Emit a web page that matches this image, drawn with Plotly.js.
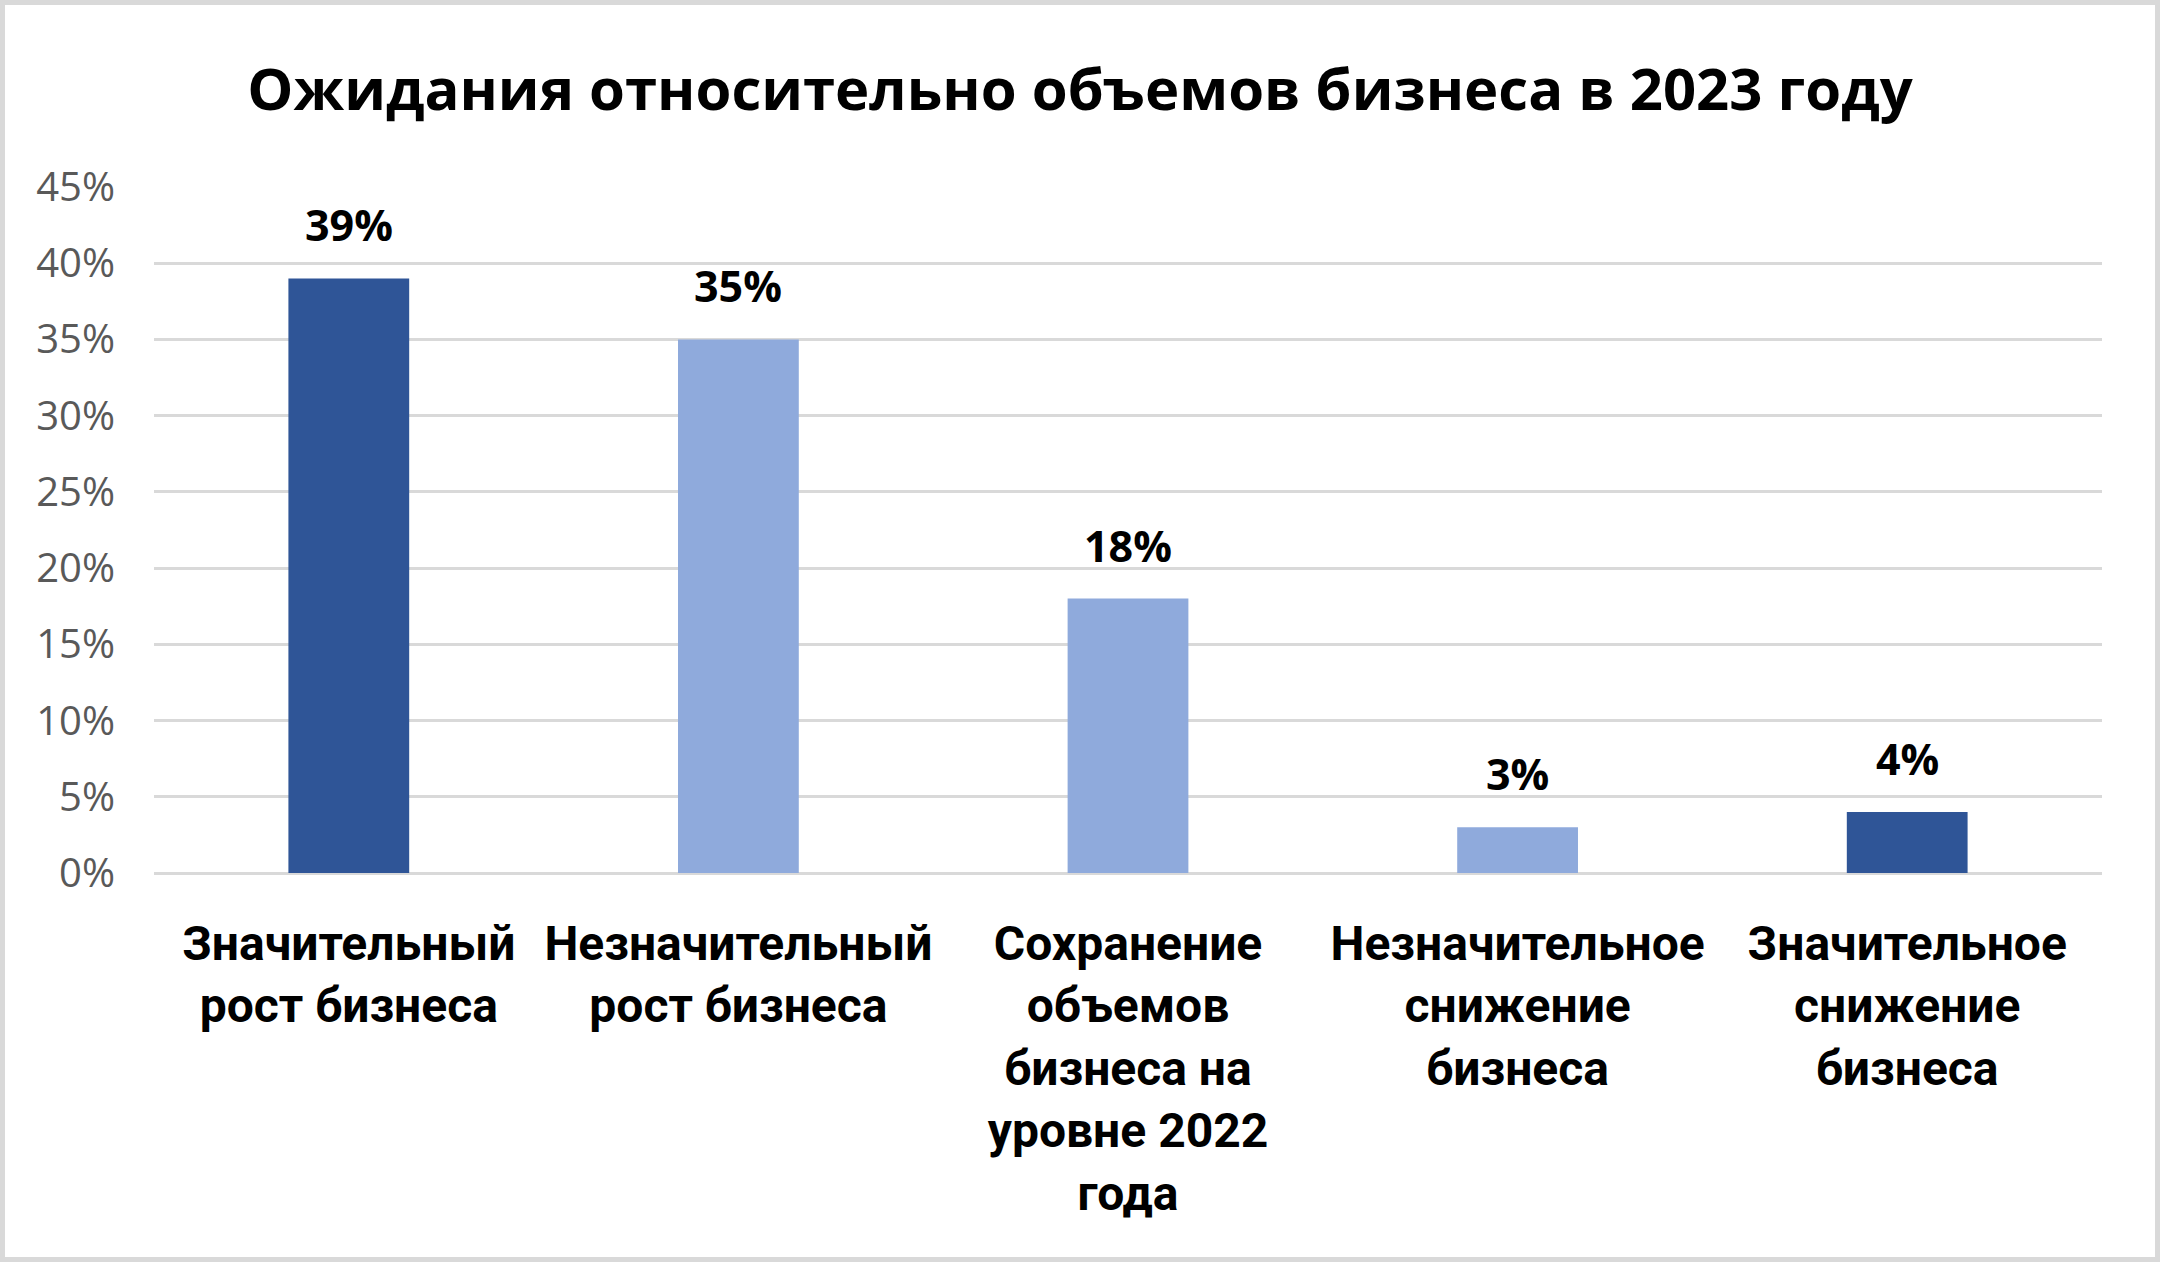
<!DOCTYPE html>
<html>
<head>
<meta charset="utf-8">
<script src="https://cdn.plot.ly/plotly-3.0.1.min.js"></script>
<style>
  html, body { margin: 0; padding: 0; background: #ffffff; }
  #chart { width: 2150px; height: 1252px; border: 5px solid #d9d9d9; }
</style>
</head>
<body>
<div id="chart"></div>
<script>
const categories = [
  "Значительный<br>рост бизнеса",
  "Незначительный<br>рост бизнеса",
  "Сохранение<br>объемов<br>бизнеса на<br>уровне 2022<br>года",
  "Незначительное<br>снижение<br>бизнеса",
  "Значительное<br>снижение<br>бизнеса"
];
const values = [0.39, 0.35, 0.18, 0.03, 0.04];
const valueLabels = ["39%", "35%", "18%", "3%", "4%"];
const barColors = ["#2F5597", "#8FAADC", "#8FAADC", "#8FAADC", "#2F5597"];
const tickValues = [0, 0.05, 0.10, 0.15, 0.20, 0.25, 0.30, 0.35, 0.40, 0.45];
const tickLabels = ["0%", "5%", "10%", "15%", "20%", "25%", "30%", "35%", "40%", "45%"];
const titleText = "Ожидания относительно объемов бизнеса в 2023 году";

const trace = {
  type: "bar",
  x: categories,
  y: values,
  marker: { color: barColors },
  hoverinfo: "none"
};

const annotations = categories.map((c, i) => ({
  x: c, y: values[i], xref: "x", yref: "y",
  text: "<b>" + valueLabels[i] + "</b>",
  showarrow: false, yanchor: "bottom", yshift: 22,
  font: { family: "Open Sans", size: 43, color: "#000000" }
}));

const layout = {
  width: 2150, height: 1252,
  margin: { l: 149, r: 53, t: 182, b: 384 },
  paper_bgcolor: "#ffffff", plot_bgcolor: "#ffffff",
  showlegend: false,
  bargap: 0.69,
  title: {
    text: "<b>" + titleText + "</b>",
    xref: "container", x: 0.5, xanchor: "center",
    yref: "container", y: 1 - 85 / 1252, yanchor: "middle",
    font: { family: "Open Sans", size: 58, color: "#000000" }
  },
  xaxis: {
    type: "category",
    tickfont: { family: "Roboto", size: 48, color: "#000000", weight: "bold" },
    ticks: "", showline: false, showgrid: false,
    ticklabelstandoff: 38,
    tickangle: 0
  },
  yaxis: {
    range: [0, 0.45],
    tickvals: tickValues, ticktext: tickLabels,
    tickfont: { family: "Open Sans", size: 40, color: "#595959" },
    showgrid: true, gridcolor: "#d9d9d9", gridwidth: 3,
    zeroline: true, zerolinecolor: "#d9d9d9", zerolinewidth: 3,
    showline: false, ticks: "",
    ticklabelstandoff: 38
  },
  annotations: annotations
};

Plotly.newPlot("chart", [trace], layout, { displayModeBar: false, staticPlot: true });
</script>
</body>
</html>
